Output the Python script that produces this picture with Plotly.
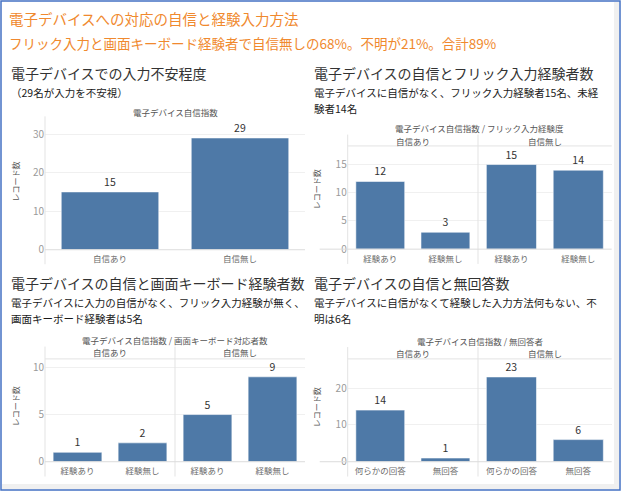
import plotly.graph_objects as go

# ---------------- data ----------------
conf_labels = ["自信あり", "自信無し"]
exp_labels = ["経験あり", "経験無し"]
ans_labels = ["何らかの回答", "無回答"]

p1_counts = [15, 29]
flick_conf = [12, 3]
flick_noconf = [15, 14]
kb_conf = [1, 2]
kb_noconf = [5, 9]
ans_conf = [14, 1]
ans_noconf = [23, 6]

p1_ticks = [0, 10, 20, 30]
p2_ticks = [0, 5, 10, 15]
p3_ticks = [0, 5, 10]
p4_ticks = [0, 10, 20]

main_title = "電子デバイスへの対応の自信と経験入力方法"
main_sub = "フリック入力と画面キーボード経験者で自信無しの68%。不明が21%。合計89%"
titles = ["電子デバイスでの入力不安程度", "電子デバイスの自信とフリック入力経験者数",
          "電子デバイスの自信と画面キーボード経験者数", "電子デバイスの自信と無回答数"]
subs = [["（29名が入力を不安視）"],
        ["電子デバイスに自信がなく、フリック入力経験者15名、未経", "験者14名"],
        ["電子デバイスに入力の自信がなく、フリック入力経験が無く、", "画面キーボード経験者は5名"],
        ["電子デバイスに自信がなくて経験した入力方法何もない、不", "明は6名"]]
headers = ["電子デバイス自信指数", "電子デバイス自信指数 / フリック入力経験度",
           "電子デバイス自信指数 / 画面キーボード対応者数", "電子デバイス自信指数 / 無回答者"]
ytitle = "レコード数"

# ---------------- geometry helpers ----------------
W, H = 624, 499
FONT = "Noto Sans CJK JP"
BAR = "#4E79A7"
ORANGE = "#F0892E"


def px(x):
    return x / W


def py(y):
    return 1 - y / H


fig = go.Figure()


def bar(xs, ys, xa, ya):
    fig.add_trace(go.Bar(
        x=xs, y=ys, xaxis=xa, yaxis=ya,
        marker=dict(color=BAR, line=dict(color="rgba(255,255,255,0.55)", width=1)),
        text=[str(v) for v in ys], textposition="outside", cliponaxis=False,
        textfont=dict(size=10.5, color="#333333", family=FONT),
        showlegend=False, hoverinfo="x+y"))


bar(conf_labels, p1_counts, "x", "y")
bar(exp_labels, flick_conf, "x2", "y2")
bar(exp_labels, flick_noconf, "x3", "y2")
bar(exp_labels, kb_conf, "x4", "y3")
bar(exp_labels, kb_noconf, "x5", "y3")
bar(ans_labels, ans_conf, "x6", "y4")
bar(ans_labels, ans_noconf, "x7", "y4")

xfont = dict(size=8.5, color="#6b6b6b", family=FONT)
yfont = dict(size=10, color="#9a9a9a", family=FONT)


def xax(d0, d1, anchor):
    return dict(domain=[px(d0), px(d1)], anchor=anchor, type="category",
                showgrid=False, showline=False, zeroline=False, ticks="",
                tickfont=xfont, ticklabelstandoff=3, fixedrange=True)


def yax(top, bottom, rng, ticks, anchor):
    return dict(domain=[py(bottom), py(top)], anchor=anchor, range=rng,
                tickvals=ticks, showgrid=True, gridcolor="#f0f0f0", gridwidth=1,
                zeroline=False, showline=False, ticks="", tickfont=yfont,
                fixedrange=True)


# panel layout (pixels)
P1 = dict(l=45, r=305, top=120, base=253.3)
P2 = dict(l=347.7, m=478, r=611.7, top=148, base=252.7)
P3 = dict(l=45, m=175, r=305, top=364, base=468.3)
P4 = dict(l=347.7, m=478, r=611.7, top=364, base=468.3)

fig.update_layout(
    width=W, height=H, margin=dict(l=0, r=0, t=0, b=0),
    paper_bgcolor="white", plot_bgcolor="rgba(0,0,0,0)",
    font=dict(family=FONT, color="#333333"),
    bargap=0.25,
    xaxis=xax(P1["l"], P1["r"], "y"),
    yaxis=yax(P1["top"], P1["base"], [0, 34.1], p1_ticks, "x"),
    xaxis2=xax(P2["l"], P2["m"], "y2"),
    xaxis3=xax(P2["m"], P2["r"], "y2"),
    yaxis2=yax(P2["top"], P2["base"], [0, 18.3], p2_ticks, "x2"),
    xaxis4=xax(P3["l"], P3["m"], "y3"),
    xaxis5=xax(P3["m"], P3["r"], "y3"),
    yaxis3=yax(P3["top"], P3["base"], [0, 10.9], p3_ticks, "x4"),
    xaxis6=xax(P4["l"], P4["m"], "y4"),
    xaxis7=xax(P4["m"], P4["r"], "y4"),
    yaxis4=yax(P4["top"], P4["base"], [0, 27.9], p4_ticks, "x6"),
)

ann = []
shapes = []


def text(x, y, s, size, color="#333333", xanchor="left", angle=0):
    ann.append(dict(x=px(x), y=py(y), xref="paper", yref="paper", text=s,
                    showarrow=False, xanchor=xanchor, yanchor="middle",
                    textangle=angle, font=dict(size=size, color=color, family=FONT)))


def line(x0, y0, x1, y1, color="#e3e3e3", width=1):
    shapes.append(dict(type="line", xref="paper", yref="paper",
                       x0=px(x0), y0=py(y0), x1=px(x1), y1=py(y1),
                       line=dict(color=color, width=width)))


# main titles
text(7, 19, main_title, 14.5, ORANGE)
text(7, 44, main_sub, 13.5, ORANGE)

# panel titles & subtitles
tx = [9, 312, 9, 312]
ty = [74, 74, 287, 287]
for i in range(4):
    text(tx[i], ty[i], titles[i], 14, "#333333")
    for j, s in enumerate(subs[i]):
        text(tx[i], ty[i] + 19.5 + j * 17, s, 10.5, "#1a1a1a")

# panel 1 chart header
text((P1["l"] + P1["r"]) / 2, 114, headers[0], 8.5, "#555555", "center")
line(P1["l"], P1["top"] - 2, P1["l"], 268)
line(P1["l"], P1["base"], P1["r"], P1["base"], "#dcdcdc")

# faceted panels
for P, hdr, hy in [(P2, headers[1], 130), (P3, headers[2], 345), (P4, headers[3], 345.5)]:
    text((P["l"] + P["r"]) / 2, hy, hdr, 8.5, "#555555", "center")
    sy = hy + 12.5
    text((P["l"] + P["m"]) / 2, sy, conf_labels[0], 8.5, "#555555", "center")
    text((P["m"] + P["r"]) / 2, sy, conf_labels[1], 8.5, "#555555", "center")
    line(P["l"], P["top"], P["r"], P["top"])
    bottom = P["base"] + 15
    line(P["l"], sy - 6, P["l"], bottom)
    line(P["m"], sy - 6, P["m"], bottom)
    line(P["l"] - 28 if P["l"] > 300 else P["l"], P["base"], P["r"], P["base"], "#dcdcdc")

# y axis titles
text(15, 184, ytitle, 8, "#555555", "center", -90)
text(316, 192, ytitle, 8, "#555555", "center", -90)
text(15, 412, ytitle, 8, "#555555", "center", -90)
text(316, 413, ytitle, 8, "#555555", "center", -90)

# frame: gray strips and blue border
shapes.append(dict(type="rect", xref="paper", yref="paper", x0=px(614), x1=px(619),
                   y0=py(491), y1=py(2), fillcolor="#f0f0f0", line=dict(width=0), layer="below"))
shapes.append(dict(type="rect", xref="paper", yref="paper", x0=px(2), x1=px(619),
                   y0=py(496), y1=py(491), fillcolor="#f0f0f0", line=dict(width=0), layer="below"))
shapes.append(dict(type="rect", xref="paper", yref="paper", x0=px(1), x1=px(620),
                   y0=py(497), y1=py(1), line=dict(color="#4472C4", width=1.5)))

fig.update_layout(annotations=ann, shapes=shapes)
fig.write_html("out.html", config={"displayModeBar": False},
               post_script="document.body.style.margin='0';document.body.style.padding='0';")
